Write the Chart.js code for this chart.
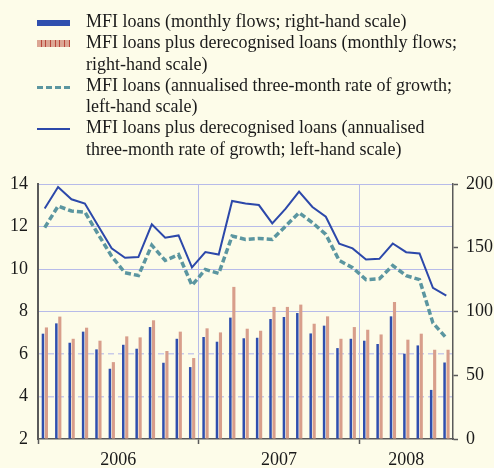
<!DOCTYPE html>
<html>
<head>
<meta charset="utf-8">
<script src="https://cdn.jsdelivr.net/npm/chart.js@4.4.1/dist/chart.umd.min.js"></script>
<style>
  body { margin: 0; background: #fdfce9; }
  #wrap { position: relative; width: 494px; height: 468px; background: #fdfce9; overflow: hidden; }
  #chart { position: absolute; left: 0; top: 0; }
  #legend { position: absolute; left: 0; top: 11px; font: 18px/21.3px "Liberation Serif", "Times New Roman", serif; color: #1a1a1a; }
  .item { position: relative; padding-left: 86px; }
  .sym { position: absolute; left: 37px; width: 33px; }
  .s-blue { top: 9px; height: 6px; background: #2f4fae; }
  .s-pink { top: 8px; height: 7px; background: repeating-linear-gradient(90deg, #dca694 0 3.6px, #b9473a 3.6px 4.7px); }
  .s-dash { top: 11px; height: 3px; background: repeating-linear-gradient(90deg, #5b96a0 0 6.5px, transparent 6.5px 8.9px); }
  .s-line { top: 11px; height: 2px; background: #2c48aa; }
</style>
</head>
<body>
<div id="wrap">
  <canvas id="chart" width="494" height="468"></canvas>
  <div id="legend">
    <div class="item"><span class="sym s-blue"></span>MFI loans (monthly flows; right-hand scale)</div>
    <div class="item"><span class="sym s-pink"></span>MFI loans plus derecognised loans (monthly flows;<br>right-hand scale)</div>
    <div class="item"><span class="sym s-dash"></span>MFI loans (annualised three-month rate of growth;<br>left-hand scale)</div>
    <div class="item"><span class="sym s-line"></span>MFI loans plus derecognised loans (annualised<br>three-month rate of growth; left-hand scale)</div>
  </div>
</div>
<script>
// Data (Jan 2006 - Jul 2008)
const months = [
  '2006-01', '2006-02', '2006-03', '2006-04', '2006-05', '2006-06', '2006-07', '2006-08', '2006-09', '2006-10', '2006-11', '2006-12',
  '2007-01', '2007-02', '2007-03', '2007-04', '2007-05', '2007-06', '2007-07', '2007-08', '2007-09', '2007-10', '2007-11', '2007-12',
  '2008-01', '2008-02', '2008-03', '2008-04', '2008-05', '2008-06', '2008-07'
];
const years = ['2006', '2007', '2008'];
const monthsPerYear = [12, 12, 7];

// monthly flows (right-hand scale)
const mfiFlows = [82.6, 90.7, 75.5, 84.2, 70.3, 55.1, 73.9, 70.8, 87.8, 59.8, 78.6, 56.4,
  80.0, 76.3, 95.2, 79.0, 79.4, 94.1, 95.7, 98.8, 82.8, 88.9, 71.3, 78.6,
  77.1, 74.5, 96.2, 66.9, 73.4, 38.5, 60.0];
const mfiPlusDerecFlows = [87.5, 96.0, 78.6, 87.3, 77.1, 60.3, 80.5, 79.7, 93.1, 69.0, 84.2, 63.5,
  86.8, 83.6, 119.3, 86.5, 84.9, 103.6, 103.6, 105.4, 90.4, 96.2, 78.6, 87.8,
  85.7, 82.0, 107.5, 77.9, 82.6, 70.0, 70.0];

// annualised three-month growth (left-hand scale)
const mfiGrowth = [11.95, 12.96, 12.73, 12.68, 11.63, 10.6, 9.82, 9.69, 11.12, 10.4, 10.68, 9.23,
  9.98, 9.79, 11.55, 11.39, 11.44, 11.39, 12.02, 12.65, 12.18, 11.63, 10.4, 10.06,
  9.5, 9.54, 10.16, 9.69, 9.5, 7.46, 6.75];
const mfiPlusDerecGrowth = [12.85, 13.86, 13.28, 13.08, 12.02, 10.97, 10.53, 10.56, 12.1, 11.47, 11.58, 10.08,
  10.8, 10.68, 13.2, 13.08, 13.01, 12.15, 12.84, 13.64, 12.92, 12.46, 11.19, 10.97,
  10.45, 10.48, 11.2, 10.79, 10.73, 9.11, 8.75];

const leftTicks = [2, 4, 6, 8, 10, 12, 14];
const rightTicks = [0, 50, 100, 150, 200];

// centre of each year band, in months from the start
const yearCenters = [];
let acc = 0;
monthsPerYear.forEach(n => { yearCenters.push(acc + n / 2); acc += n; });
// month index where each new year begins
const yearStarts = [];
acc = 0;
monthsPerYear.forEach(n => { yearStarts.push(acc); acc += n; });

const GRID = '#b7bbe9';
const GRID_DASH = '#c9cbea';
const AXIS = '#5a5a5a';

Chart.defaults.font.family = '"Liberation Serif", "Times New Roman", serif';
Chart.defaults.font.size = 18;
Chart.defaults.color = '#1a1a1a';

new Chart(document.getElementById('chart'), {
  data: {
    labels: months,
    datasets: [
      {
        type: 'line', label: 'MFI loans plus derecognised loans (growth)', data: mfiPlusDerecGrowth,
        yAxisID: 'y', borderColor: '#2c48aa', borderWidth: 2, pointRadius: 0, tension: 0, order: 0
      },
      {
        type: 'line', label: 'MFI loans (growth)', data: mfiGrowth,
        yAxisID: 'y', borderColor: '#5b96a0', borderWidth: 3.5, borderDash: [6, 3], pointRadius: 0, tension: 0, order: 1
      },
      {
        type: 'bar', label: 'MFI loans (flows)', data: mfiFlows,
        yAxisID: 'y2', backgroundColor: '#2f4fae', barPercentage: 0.72, categoryPercentage: 0.52, order: 2
      },
      {
        type: 'bar', label: 'MFI loans plus derecognised loans (flows)', data: mfiPlusDerecFlows,
        yAxisID: 'y2', backgroundColor: '#d89e8b', barPercentage: 0.9, categoryPercentage: 0.52, order: 3
      }
    ]
  },
  options: {
    responsive: false,
    animation: false,
    devicePixelRatio: 1,
    layout: { padding: { top: 184, left: 0, right: 0, bottom: 0 } },
    plugins: { legend: { display: false }, tooltip: { enabled: false } },
    scales: {
      x: {
        type: 'category',
        position: 'bottom',
        offset: true,
        grid: {
          offset: true,
          drawTicks: true,
          tickLength: 5,
          color: ctx => (ctx.index > 0 && yearStarts.includes(ctx.index)) ? GRID : 'rgba(0,0,0,0)',
          tickColor: ctx => yearStarts.includes(ctx.index) ? AXIS : 'rgba(0,0,0,0)',
          tickWidth: 1.5
        },
        border: { display: true, color: AXIS, width: 1.5 },
        ticks: { display: false },
        afterFit: s => { s.height = 6; }
      },
      xYear: {
        type: 'linear',
        position: 'bottom',
        min: 0,
        max: months.length,
        grid: { display: false, drawTicks: false },
        border: { display: false },
        afterBuildTicks: s => { s.ticks = yearCenters.map(v => ({ value: v })); },
        ticks: {
          padding: 4,
          autoSkip: false,
          maxRotation: 0,
          callback: v => years[yearCenters.indexOf(v)]
        },
        afterFit: s => { s.height = 23; }
      },
      y: {
        type: 'linear',
        position: 'left',
        min: 2,
        max: 14,
        afterBuildTicks: s => { s.ticks = leftTicks.map(v => ({ value: v })); },
        grid: {
          drawTicks: false,
          color: ctx => ctx.tick && ctx.tick.value >= 8 ? GRID : 'rgba(0,0,0,0)'
        },
        border: { display: true, color: AXIS, width: 2 },
        ticks: { padding: 10 },
        afterFit: s => { s.width = 38; }
      },
      yDash: {
        type: 'linear',
        position: 'left',
        min: 2,
        max: 14,
        afterBuildTicks: s => { s.ticks = leftTicks.map(v => ({ value: v })); },
        grid: {
          drawTicks: false,
          color: ctx => ctx.tick && (ctx.tick.value === 4 || ctx.tick.value === 6) ? GRID_DASH : 'rgba(0,0,0,0)',
          lineWidth: 1.5
        },
        border: { display: false, dash: [6, 4] },
        ticks: { display: false },
        afterFit: s => { s.width = 0; }
      },
      y2: {
        type: 'linear',
        position: 'right',
        min: 0,
        max: 200,
        afterBuildTicks: s => { s.ticks = rightTicks.map(v => ({ value: v })); },
        grid: { drawOnChartArea: false, drawTicks: true, tickLength: 5, tickColor: AXIS, tickWidth: 1.5 },
        border: { display: true, color: AXIS, width: 1.5 },
        ticks: { padding: 8 },
        afterFit: s => { s.width = 41; }
      }
    }
  }
});
</script>
</body>
</html>
